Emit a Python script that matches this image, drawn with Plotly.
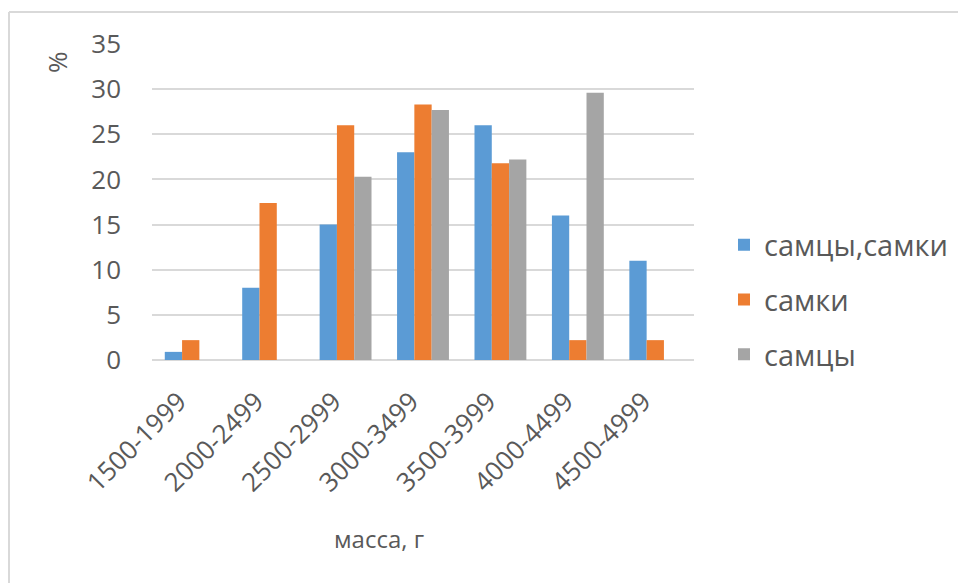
import plotly.graph_objects as go

categories = ["1500-1999", "2000-2499", "2500-2999", "3000-3499", "3500-3999", "4000-4499", "4500-4999"]
both = [0.9, 8.0, 15.0, 23.0, 26.0, 16.0, 11.0]
females = [2.2, 17.4, 26.0, 28.3, 21.8, 2.2, 2.2]
males = [0.0, 0.0, 20.3, 27.7, 22.2, 29.6, 0.0]
series_names = ["самцы,самки", "самки", "самцы"]
colors = ["#5B9BD5", "#ED7D31", "#A5A5A5"]

W, H = 958, 583
L, R, T, B = 152, 694, 44, 360

fig = go.Figure()
for i, (name, vals) in enumerate(zip(series_names, [both, females, males])):
    fig.add_trace(go.Bar(x=categories, y=vals, name=name, marker_color=colors[i],
                         marker_line_width=0, legendgroup=f"g{i}"))

font = "'Open Sans', sans-serif"
txt = "#595959"

def px_x(p):
    return (p - L) / (R - L)

def px_y(p):
    return (B - p) / (B - T)

fig.update_layout(
    width=W, height=H,
    margin=dict(l=L, r=W - R, t=T, b=H - B, autoexpand=False),
    paper_bgcolor="white", plot_bgcolor="white",
    barmode="group", bargap=0.33, bargroupgap=0,
    font=dict(family=font, color=txt),
    showlegend=True,
    legend=dict(x=px_x(724), y=px_y(300), xanchor="left", yanchor="middle",
                font=dict(size=29, color=txt, family=font), tracegroupgap=14,
                itemwidth=30),
    xaxis=dict(type="category", tickangle=-45, tickfont=dict(size=26, color=txt),
               showgrid=False, showline=False, ticks="", zeroline=False,
               ticklabelstandoff=20, ticklabelshift=-12, automargin=False),
    yaxis=dict(range=[0, 35], dtick=5, tickfont=dict(size=26, color=txt),
               gridcolor="#D9D9D9", gridwidth=2, zeroline=True, zerolinecolor="#D9D9D9",
               zerolinewidth=2, showline=False, ticks="", ticklabelstandoff=30, automargin=False),
    annotations=[
        dict(text="масса, г", x=px_x(379), y=px_y(538), xref="paper", yref="paper",
             showarrow=False, font=dict(size=24, color=txt), xanchor="center", yanchor="middle"),
        dict(text="%", x=px_x(57), y=px_y(62), xref="paper", yref="paper",
             showarrow=False, font=dict(size=26, color=txt), textangle=-90,
             xanchor="center", yanchor="middle"),
    ],
    shapes=[
        dict(type="line", xref="paper", yref="paper", x0=px_x(9), x1=px_x(9), y0=px_y(12), y1=px_y(600),
             line=dict(color="#D9D9D9", width=2)),
        dict(type="line", xref="paper", yref="paper", x0=px_x(9), x1=px_x(970), y0=px_y(12), y1=px_y(12),
             line=dict(color="#D9D9D9", width=2)),
    ],
)

fig.write_html("out.html")
